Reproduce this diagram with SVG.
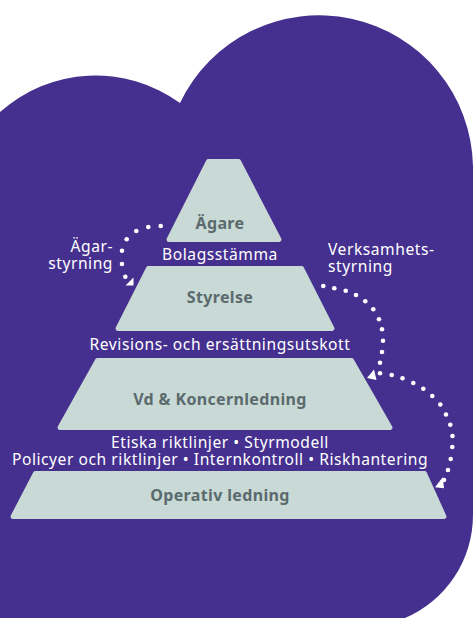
<svg xmlns="http://www.w3.org/2000/svg" width="473" height="618" viewBox="0 0 473 618">
<style>
.bg{fill:#45308F}
.tier{fill:#C9D9D6;stroke:#C9D9D6;stroke-width:5;stroke-linejoin:round}
.nt{font-family:"Noto Sans","Open Sans",sans-serif;font-weight:bold;font-size:16px;letter-spacing:0.35px;fill:#5A6A6D;text-anchor:middle}
.lb{font-family:"Noto Sans","Open Sans",sans-serif;font-size:15.6px;letter-spacing:0.55px;fill:#FFFFFF}
.c{text-anchor:middle}
.r{text-anchor:end}
.dots{fill:none;stroke:none;marker-start:url(#dot);marker-mid:url(#dot);marker-end:url(#dot)}
.ah{fill:#FFFFFF}
</style>
<defs>
<marker id="dot" markerUnits="userSpaceOnUse" markerWidth="6" markerHeight="6" refX="3" refY="3" overflow="visible">
<circle cx="3" cy="3" r="2.3" fill="#FFFFFF"/>
</marker>
</defs>
<path class="bg" d="M0,112 A143.4,143.4 0 0 1 180,103 A154,154 0 0 1 473,166 L473,515 A112,112 0 0 1 405,618 L0,618 Z"/>
<g id="tier-agare">
<polygon class="tier" points="208.5,161.5 238.5,161.5 278.9,239.5 169.1,239.5"/>
<text class="nt" x="220" y="229">Ägare</text>
</g>
<g id="tier-styrelse">
<polygon class="tier" points="148.5,268.5 301.5,268.5 331.9,328.5 118.1,328.5"/>
<text class="nt" x="220" y="303">Styrelse</text>
</g>
<g id="tier-vd">
<polygon class="tier" points="97.5,360.5 351.5,360.5 389.9,427.5 60.1,427.5"/>
<text class="nt" x="220" y="405">Vd &amp; Koncernledning</text>
</g>
<g id="tier-operativ">
<polygon class="tier" points="35.5,473.5 424.5,473.5 443.9,516.5 13.1,516.5"/>
<text class="nt" x="220" y="501">Operativ ledning</text>
</g>
<g id="labels">
<text class="lb c" x="220" y="260">Bolagsstämma</text>
<text class="lb c" x="220" y="350">Revisions- och ersättningsutskott</text>
<text class="lb c" x="220" y="448">Etiska riktlinjer • Styrmodell</text>
<text class="lb c" x="220" y="465">Policyer och riktlinjer • Internkontroll • Riskhantering</text>
<text class="lb r" x="113" y="252">Ägar-</text>
<text class="lb r" x="113" y="269">styrning</text>
<text class="lb" x="328" y="255">Verksamhets-</text>
<text class="lb" x="328" y="272">styrning</text>
</g>
<g id="connectors">
<polyline class="dots" points="160.7,226 148.3,227 136.3,231 126.7,239.3 122,250.7 122,264 125.3,276.7"/>
<polygon class="ah" points="133.5,277.5 133.5,285.5 125.5,285.5"/>
<polyline class="dots" points="323.3,286 334.3,288.3 345.7,290.7 356,295 365.3,301.3 373.3,309.3 379,319.3 382,329.3 383,340.7 382,352 380,362.7"/>
<polygon class="ah" points="374,369.5 367,378 376.5,380"/>
<polyline class="dots" points="380,373.3 391.7,375 402.5,378.3 413.3,383 423.3,388.7 432.3,396 440.3,404.5 446,414.5 450.3,424.7 452.5,436 452.3,447 450.7,459 448,470 444,480"/>
<polygon class="ah" points="442.7,477.3 435,487.3 444,488.3"/>
</g>
</svg>
